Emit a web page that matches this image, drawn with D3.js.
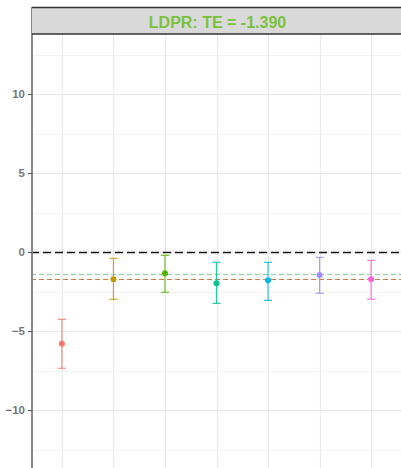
<!DOCTYPE html>
<html>
<head>
<meta charset="utf-8">
<script src="https://cdn.jsdelivr.net/npm/d3@7"></script>
<style>
  html, body { margin: 0; padding: 0; background: #fff; }
  svg { display: block; }
</style>
</head>
<body>
<div id="chart"></div>
<script>
// Groups, point estimates and interval bounds
const groups = ["A", "B", "C", "D", "E", "F", "G"];
const estimates = [-5.80, -1.73, -1.35, -1.98, -1.79, -1.46, -1.73];
const lower = [-7.36, -2.99, -2.55, -3.25, -3.06, -2.61, -2.99];
const upper = [-4.26, -0.40, -0.21, -0.65, -0.65, -0.34, -0.53];
const colors = ["#F8766D", "#C49A00", "#53B400", "#00C094", "#00B6EB", "#A58AFF", "#FB61D7"];

// Reference lines: zero, total effect, group mean
const zeroLine = 0;
const teValue = -1.390;
const meanValue = -1.73;

const yTicks = [-10, -5, 0, 5, 10];
const yMinor = [-12.5, -7.5, -2.5, 2.5, 7.5, 12.5];
const title = "LDPR: TE = " + teValue.toFixed(3);

const W = 401, H = 468;
const panel = { left: 31, right: 402, top: 34, bottom: 468 };

const svg = d3.select("#chart").append("svg")
  .attr("width", W).attr("height", H);

const x = d3.scalePoint().domain(groups)
  .range([panel.left, panel.right]).padding(0.6);
const y = d3.scaleLinear().domain([-13.67, 13.8])
  .range([panel.bottom, panel.top]);

// snap a coordinate to the pixel centre for crisp 1px lines
const crisp = v => Math.round(v) + 0.5;

svg.append("rect")
  .attr("x", panel.left).attr("y", panel.top)
  .attr("width", panel.right - panel.left).attr("height", panel.bottom - panel.top)
  .attr("fill", "#fff");

// Grid
svg.append("g").selectAll("line").data(yMinor).join("line")
  .attr("x1", panel.left).attr("x2", panel.right)
  .attr("y1", d => crisp(y(d))).attr("y2", d => crisp(y(d)))
  .attr("stroke", "#f2f2f2").attr("stroke-width", 1);

svg.append("g").selectAll("line").data(yTicks).join("line")
  .attr("x1", panel.left).attr("x2", panel.right)
  .attr("y1", d => crisp(y(d))).attr("y2", d => crisp(y(d)))
  .attr("stroke", "#e8e8e8").attr("stroke-width", 1);

svg.append("g").selectAll("line").data(groups).join("line")
  .attr("x1", d => crisp(x(d))).attr("x2", d => crisp(x(d)))
  .attr("y1", panel.top).attr("y2", panel.bottom)
  .attr("stroke", "#ebebeb").attr("stroke-width", 1.2);

// Reference lines
svg.append("line")
  .attr("x1", panel.left).attr("x2", panel.right)
  .attr("y1", crisp(y(zeroLine))).attr("y2", crisp(y(zeroLine)))
  .attr("stroke", "#111").attr("stroke-width", 1.3)
  .attr("stroke-dasharray", "8,4");

svg.append("line")
  .attr("x1", panel.left).attr("x2", panel.right)
  .attr("y1", crisp(y(teValue))).attr("y2", crisp(y(teValue)))
  .attr("stroke", "#88d0a4").attr("stroke-width", 1)
  .attr("stroke-dasharray", "5,3");

svg.append("line")
  .attr("x1", panel.left).attr("x2", panel.right)
  .attr("y1", crisp(y(meanValue))).attr("y2", crisp(y(meanValue)))
  .attr("stroke", "#d37a3c").attr("stroke-width", 1)
  .attr("stroke-dasharray", "5,3");

// Error bars and points
const rows = groups.map((g, i) => ({ g, est: estimates[i], lo: lower[i], hi: upper[i], c: colors[i] }));
const bars = svg.append("g").selectAll("g").data(rows).join("g");
bars.append("line")
  .attr("x1", d => x(d.g)).attr("x2", d => x(d.g))
  .attr("y1", d => y(d.lo)).attr("y2", d => y(d.hi))
  .attr("stroke", d => d.c).attr("stroke-width", 1.2).attr("stroke-opacity", 0.85);
bars.selectAll(".cap").data(d => [{ d, v: d.lo }, { d, v: d.hi }]).join("line")
  .attr("x1", o => x(o.d.g) - 4).attr("x2", o => x(o.d.g) + 4)
  .attr("y1", o => y(o.v)).attr("y2", o => y(o.v))
  .attr("stroke", o => o.d.c).attr("stroke-width", 1.2).attr("stroke-opacity", 0.85);
bars.append("circle")
  .attr("cx", d => x(d.g)).attr("cy", d => y(d.est)).attr("r", 3)
  .attr("fill", d => d.c);

// Left axis
const axis = svg.append("g").attr("transform", `translate(${panel.left + 1},0)`)
  .call(d3.axisLeft(y).tickValues(yTicks).tickSize(4).tickPadding(3).tickFormat(d3.format("d")));
axis.select(".domain").attr("stroke", "#8a8a8a").attr("stroke-width", 2)
  .attr("d", `M0,7V${H}`);
axis.selectAll(".tick line").attr("stroke", "#555").attr("stroke-width", 1);
axis.selectAll(".tick text")
  .attr("fill", "#777").attr("font-family", "Liberation Sans, Arial, sans-serif")
  .attr("font-size", 11.5).attr("font-weight", "bold");

// Facet strip
svg.append("rect")
  .attr("x", panel.left + 1).attr("y", 7.5)
  .attr("width", panel.right - panel.left + 5).attr("height", 26.5)
  .attr("fill", "#d9d9d9");
svg.append("line").attr("x1", panel.left + 1).attr("x2", W)
  .attr("y1", 7.5).attr("y2", 7.5).attr("stroke", "#333").attr("stroke-width", 1.3);
svg.append("line").attr("x1", panel.left + 1).attr("x2", W)
  .attr("y1", 34).attr("y2", 34).attr("stroke", "#333").attr("stroke-width", 1.3);
svg.append("text")
  .attr("x", (panel.left + panel.right) / 2 + 1).attr("y", 27.5)
  .attr("text-anchor", "middle")
  .attr("font-family", "Liberation Sans, Arial, sans-serif")
  .attr("font-size", 16).attr("font-weight", "bold")
  .attr("fill", "#7cc13c")
  .text(title);
</script>
</body>
</html>
